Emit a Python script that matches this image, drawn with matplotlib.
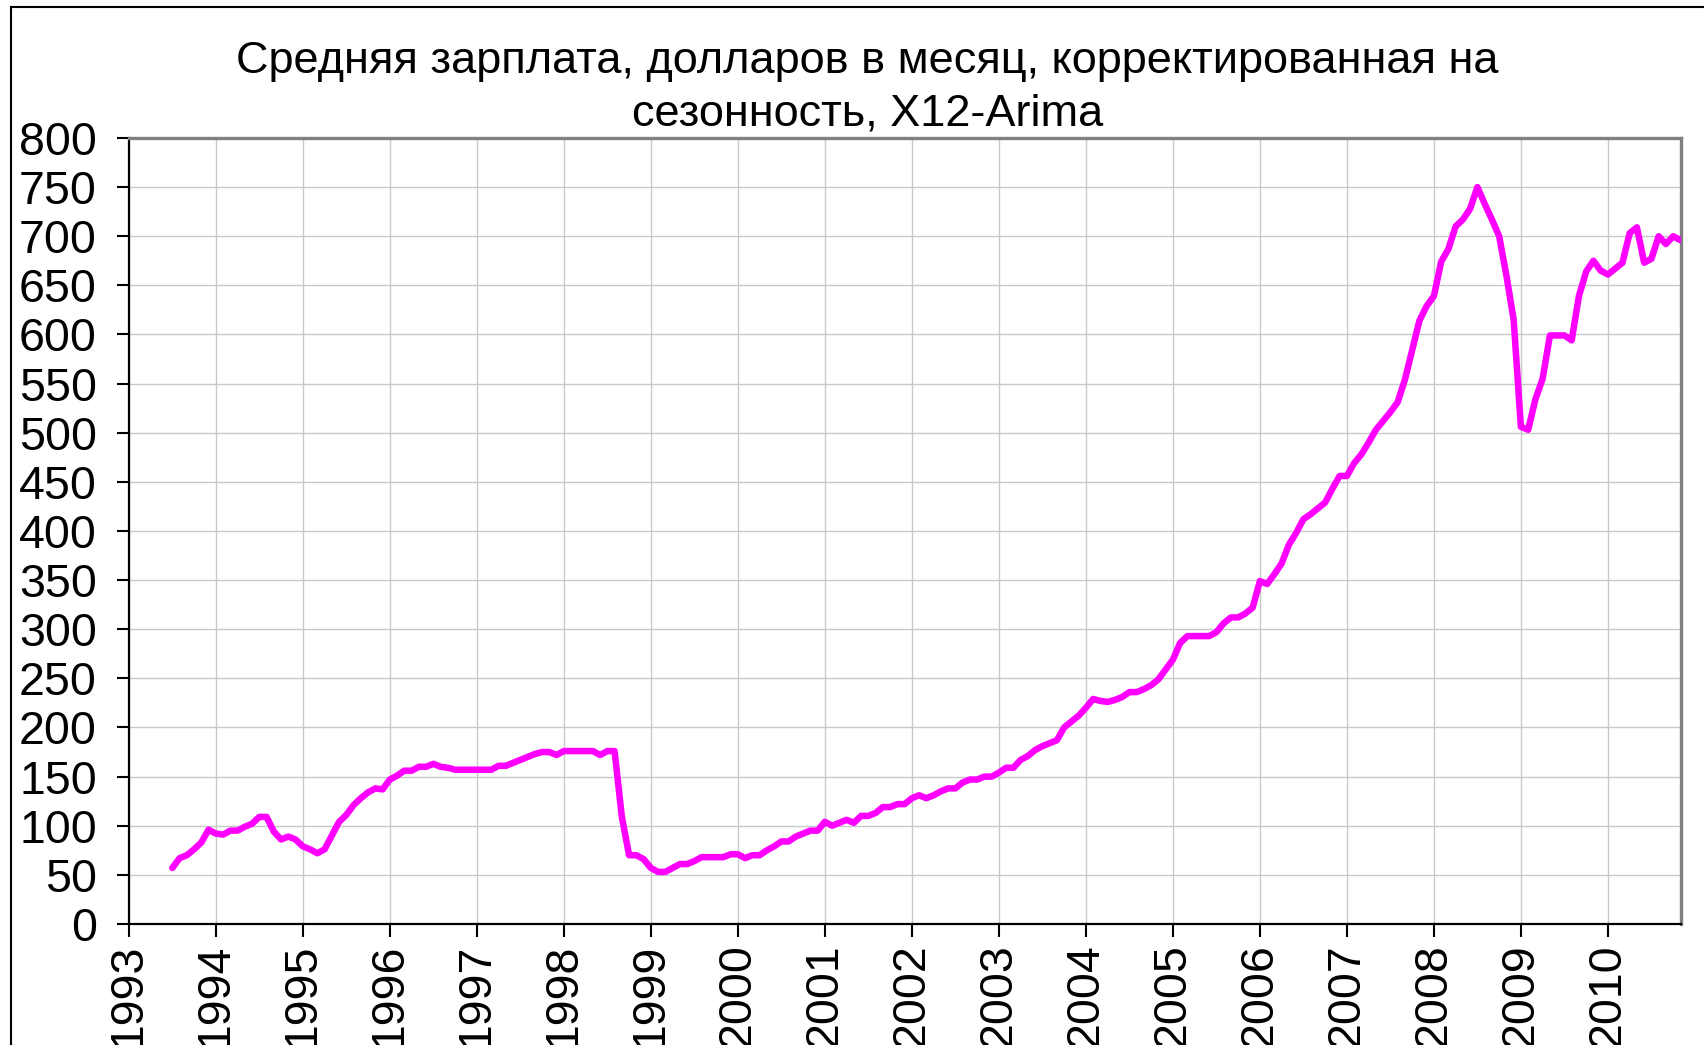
import numpy as np
import matplotlib
matplotlib.use("Agg")
import matplotlib.pyplot as plt
from matplotlib.lines import Line2D

plt.rcParams['font.family'] = ['Liberation Sans', 'DejaVu Sans']

# средняя зарплата, $ в месяц, с июля 1993 по ноябрь 2010
start_year = 1993.5
wage = [
    57, 67, 70, 76, 83, 96,                                   # 1993 (июль-дек)
    92, 91, 95, 95, 99, 102, 109, 109, 94, 86, 89, 86,        # 1994
    79, 76, 72, 76, 90, 104, 111, 121, 128, 134, 138, 137,    # 1995
    147, 151, 156, 156, 160, 160, 163, 160, 159, 157, 157, 157,  # 1996
    157, 157, 157, 161, 161, 164, 167, 170, 173, 175, 175, 172,  # 1997
    176, 176, 176, 176, 176, 172, 176, 176, 109, 70, 70, 66,     # 1998
    57, 53, 53, 57, 61, 61, 64, 68, 68, 68, 68, 71,           # 1999
    71, 67, 70, 70, 75, 79, 84, 84, 89, 92, 95, 95,           # 2000
    104, 100, 103, 106, 103, 110, 110, 113, 119, 119, 122, 122,  # 2001
    128, 131, 128, 131, 135, 138, 138, 144, 147, 147, 150, 150,  # 2002
    154, 159, 159, 167, 171, 177, 181, 184, 187, 200, 206, 212,  # 2003
    220, 229, 227, 226, 228, 231, 236, 236, 239, 243, 249, 259,  # 2004
    269, 286, 293, 293, 293, 293, 297, 306, 312, 312, 316, 322,  # 2005
    349, 346, 356, 367, 386, 398, 412, 417, 423, 429, 443, 456,  # 2006
    456, 469, 478, 490, 503, 512, 521, 531, 554, 584, 614, 629,  # 2007
    639, 674, 687, 710, 717, 728, 750, 733, 717, 700, 660, 615,  # 2008
    506, 503, 534, 555, 599, 599, 599, 594, 639, 664, 675, 665,  # 2009
    661, 667, 673, 703, 709, 673, 677, 700, 692, 700, 696,       # 2010 (янв-нояб)
]
years = list(range(1993, 2011))
y_ticks = list(range(0, 801, 50))

t = start_year + np.arange(len(wage)) / 12.0

fig = plt.figure(figsize=(17.04, 10.45), dpi=100)
ax = fig.add_axes([0.0756, 0.1158, 0.9109, 0.7522])

ax.plot(t, wage, color='#FF00FF', linewidth=4.7, solid_joinstyle='round',
        solid_capstyle='round', zorder=3)

ax.set_xlim(1993, 2010.84)
ax.set_ylim(0, 800)
ax.set_xticks(years)
ax.set_xticklabels([str(y) for y in years], rotation=90, fontsize=33.5)
ax.set_yticks(y_ticks)
ax.set_yticklabels([str(v) for v in y_ticks], fontsize=33.5)
ax.tick_params(axis='both', direction='out', length=9, width=1.5, color='black')
ax.tick_params(axis='y', pad=14)
ax.tick_params(axis='x', pad=5)

ax.grid(True, color='#C8C8C8', linewidth=1.0)
ax.set_axisbelow(True)

for side in ['left', 'bottom']:
    ax.spines[side].set_color('black')
    ax.spines[side].set_linewidth(1.6)
for side in ['top', 'right']:
    ax.spines[side].set_color('#808080')
    ax.spines[side].set_linewidth(2.4)

fig.text(0.509, 0.916,
         'Средняя зарплата, долларов в месяц, корректированная на\nсезонность, X12-Arima',
         ha='center', va='center', fontsize=32.5, linespacing=1.36)

# рамка диаграммы (видна только сверху и слева)
fig.add_artist(Line2D([11 / 1704, 11 / 1704], [0, 1 - 6.5 / 1045], transform=fig.transFigure, color='black', linewidth=1.5))
fig.add_artist(Line2D([11 / 1704, 1], [1 - 6.5 / 1045, 1 - 6.5 / 1045], transform=fig.transFigure, color='black', linewidth=1.5))

fig.savefig('out.png', dpi=100)
